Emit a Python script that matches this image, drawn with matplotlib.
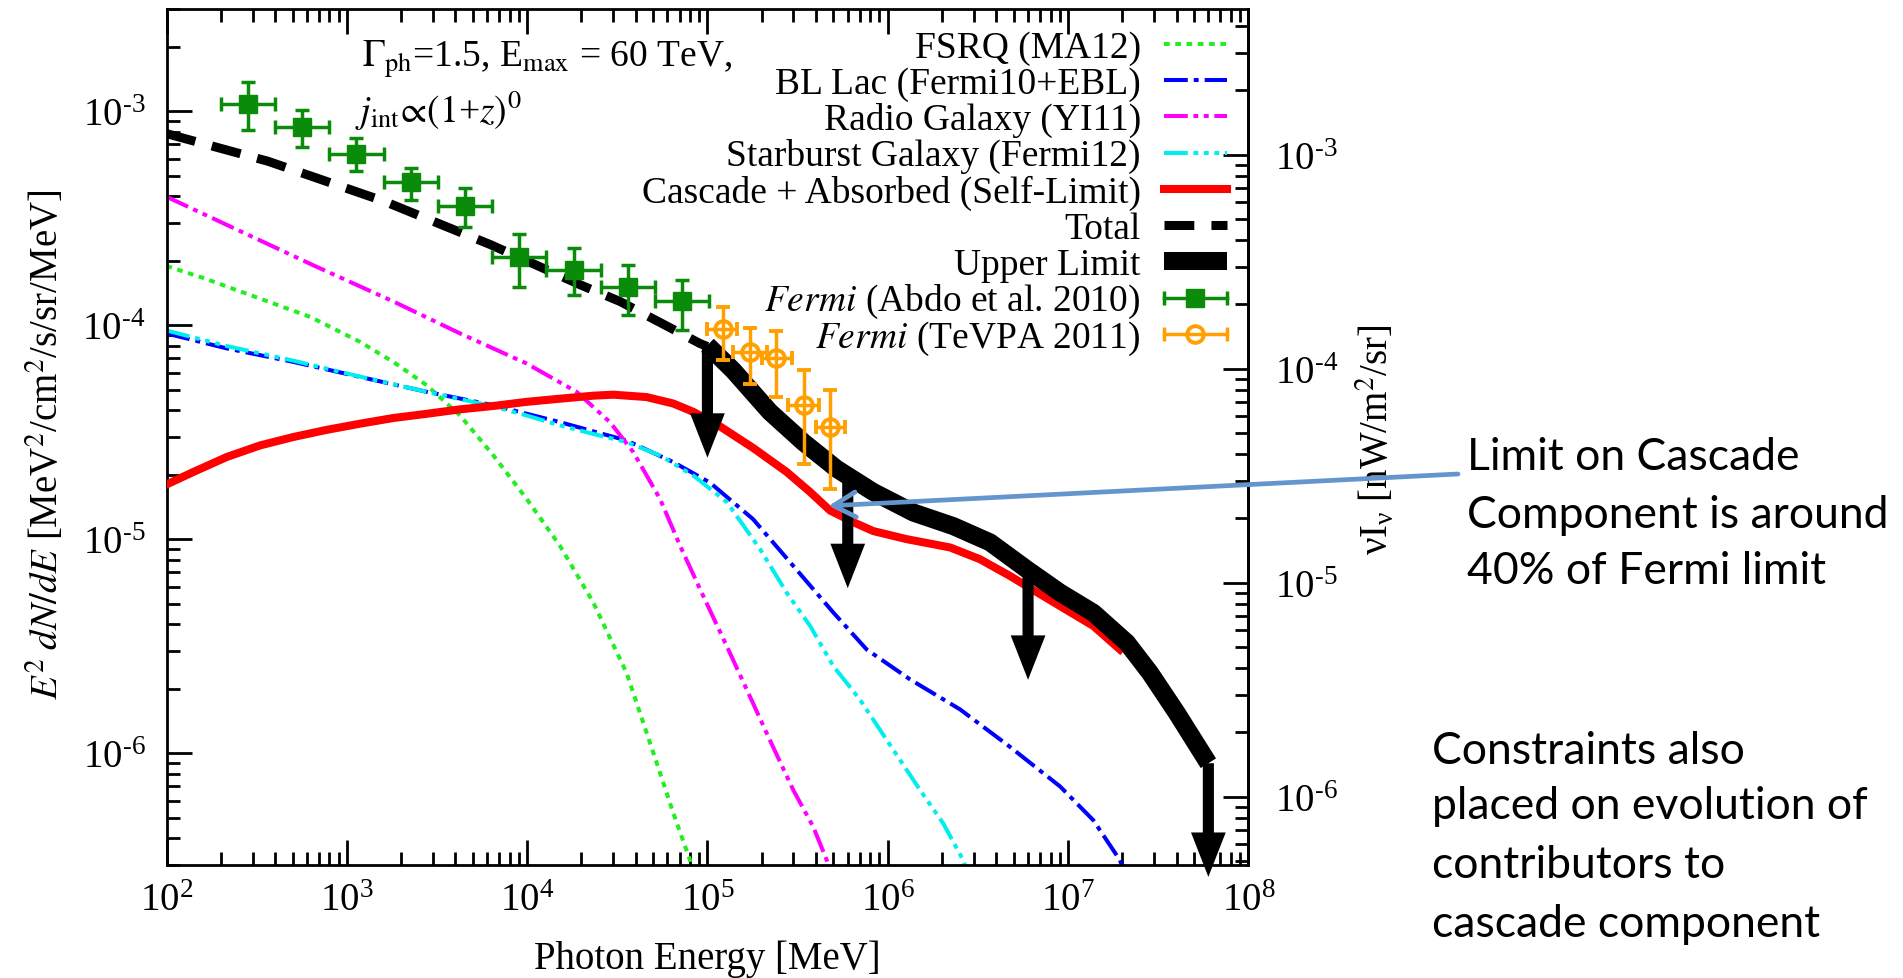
import numpy as np
import matplotlib
matplotlib.use("Agg")
import matplotlib.pyplot as plt
from matplotlib.ticker import FuncFormatter

plt.rcParams["font.family"] = ["Liberation Serif", "DejaVu Serif"]
plt.rcParams["mathtext.fontset"] = "stix"
plt.rcParams["axes.unicode_minus"] = False

# ---- values: E [MeV], E^2 dN/dE [MeV/cm^2/s/sr] ----
fsrq_E = [100, 160, 330, 630, 1180, 1810, 2770, 4250, 6500, 9950, 1.52e4, 2.33e4,
          3.56e4, 5.24e4, 6.47e4, 8.0e4, 8.5e4]
fsrq_y = [1.89e-4, 1.66e-4, 1.33e-4, 1.09e-4, 8.36e-5, 6.73e-5, 5.24e-5, 3.78e-5,
          2.46e-5, 1.54e-5, 9.31e-6, 5.05e-6, 2.37e-6, 8.97e-7, 5.24e-7, 3.16e-7, 2.5e-7]

bllac_E = [100, 216, 505, 1180, 2770, 6500, 1.52e4, 3.56e4, 6.47e4, 1.03e5, 1.79e5,
           2.99e5, 4.99e5, 7.64e5, 1.33e6, 2.52e6, 4.76e6, 9.04e6, 1.38e7, 1.94e7, 2.14e7]
bllac_y = [9.14e-5, 7.78e-5, 6.73e-5, 5.73e-5, 4.88e-5, 4.22e-5, 3.52e-5, 2.89e-5,
           2.29e-5, 1.84e-5, 1.24e-5, 7.50e-6, 4.54e-6, 3.05e-6, 2.21e-6, 1.60e-6,
           1.07e-6, 6.98e-7, 4.86e-7, 3.16e-7, 2.51e-7]

radio_E = [100, 646, 1810, 4250, 9950, 1.88e4, 2.88e4, 3.88e4, 5.46e4, 7.05e4, 9.48e4,
           1.28e5, 1.72e5, 2.22e5, 2.99e5, 3.86e5, 4.59e5, 4.90e5]
radio_y = [3.98e-4, 1.91e-4, 1.29e-4, 9.14e-5, 6.61e-5, 4.88e-5, 3.52e-5, 2.55e-5,
           1.54e-5, 9.31e-6, 5.42e-6, 3.16e-6, 1.84e-6, 1.15e-6, 6.73e-7, 4.53e-7,
           3.16e-7, 2.63e-7]

starburst_E = [100, 216, 505, 1180, 2770, 6500, 9950, 1.52e4, 2.33e4, 3.56e4, 5.46e4,
               8.36e4, 1.28e5, 1.96e5, 2.75e5, 3.71e5, 4.99e5, 7.01e5, 1.07e6, 1.51e6,
               2.03e6, 2.62e6, 2.82e6]
starburst_y = [9.44e-5, 7.98e-5, 6.82e-5, 5.75e-5, 4.88e-5, 4.17e-5, 3.78e-5, 3.40e-5,
               3.10e-5, 2.84e-5, 2.46e-5, 1.98e-5, 1.49e-5, 8.97e-6, 5.62e-6, 3.93e-6,
               2.55e-6, 1.78e-6, 1.04e-6, 6.73e-7, 4.70e-7, 3.16e-7, 2.63e-7]

cascade_E = [100, 141, 216, 330, 505, 774, 1180, 1810, 2770, 4250, 6500, 9950, 1.52e4,
             2.33e4, 3.01e4, 4.60e4, 6.47e4, 8.36e4, 1.17e5, 1.80e5, 2.75e5, 3.71e5,
             4.79e5, 6.44e5, 8.32e5, 1.27e6, 2.22e6, 3.25e6, 4.76e6, 7.29e6, 1.38e7,
             1.94e7]
cascade_y = [1.80e-5, 2.06e-5, 2.42e-5, 2.74e-5, 3.00e-5, 3.24e-5, 3.46e-5, 3.68e-5,
             3.85e-5, 4.04e-5, 4.19e-5, 4.38e-5, 4.53e-5, 4.68e-5, 4.73e-5, 4.61e-5,
             4.30e-5, 3.93e-5, 3.37e-5, 2.66e-5, 2.06e-5, 1.66e-5, 1.36e-5, 1.20e-5,
             1.09e-5, 1.00e-5, 9.14e-6, 8.05e-6, 6.73e-6, 5.42e-6, 3.93e-6, 3.05e-6]

total_E = [100, 365, 1610, 6310, 1.98e4, 3.27e4, 5.94e4, 9.10e4, 1.0e5]
total_y = [7.85e-4, 5.83e-4, 3.79e-4, 2.37e-4, 1.54e-4, 1.29e-4, 9.91e-5, 8.20e-5, 7.94e-5]

upper_E = [1.0e5, 1.39e5, 2.22e5, 3.40e5, 5.21e5, 8.32e5, 1.39e6, 2.31e6, 3.69e6,
           5.90e6, 9.04e6, 1.38e7, 2.12e7, 2.85e7, 4.01e7, 6.0e7]
upper_y = [8.05e-5, 6.14e-5, 3.93e-5, 2.84e-5, 2.13e-5, 1.66e-5, 1.33e-5, 1.15e-5,
           9.66e-6, 7.23e-6, 5.62e-6, 4.53e-6, 3.28e-6, 2.37e-6, 1.54e-6, 8.97e-7]

arrow_E = [1e5, 6e5, 6e6, 6e7]
arrow_top = [8.05e-5, 1.97e-5, 7.2e-6, 8.97e-7]
arrow_tip = [2.4e-5, 5.9e-6, 2.2e-6, 2.64e-7]

# Fermi (Abdo et al. 2010)
abdo_E = [283, 566, 1131, 2263, 4525, 9051, 18102, 36204, 72408]
abdo_Elo = [200, 400, 800, 1600, 3200, 6400, 12800, 25600, 51200]
abdo_Ehi = [400, 800, 1600, 3200, 6400, 12800, 25600, 51200, 102400]
abdo_y = [1.08e-3, 8.45e-4, 6.31e-4, 4.67e-4, 3.59e-4, 2.08e-4, 1.80e-4, 1.50e-4, 1.29e-4]
abdo_ylo = [8.13e-4, 6.81e-4, 5.24e-4, 3.86e-4, 2.88e-4, 1.50e-4, 1.38e-4, 1.11e-4, 9.48e-5]
abdo_yhi = [1.37e-3, 1.01e-3, 7.50e-4, 5.43e-4, 4.35e-4, 2.66e-4, 2.29e-4, 1.91e-4, 1.63e-4]

# Fermi (TeVPA 2011)
tevpa_E = [1.22e5, 1.72e5, 2.40e5, 3.43e5, 4.79e5]
tevpa_Elo = [9.9e4, 1.39e5, 2.0e5, 2.81e5, 4.0e5]
tevpa_Ehi = [1.46e5, 2.13e5, 2.94e5, 4.18e5, 5.79e5]
tevpa_y = [9.58e-5, 7.50e-5, 7.03e-5, 4.22e-5, 3.34e-5]
tevpa_ylo = [6.86e-5, 5.33e-5, 4.61e-5, 2.25e-5, 1.71e-5]
tevpa_yhi = [1.22e-4, 9.72e-5, 9.37e-5, 6.15e-5, 4.96e-5]

MEV_CM2_TO_NW_M2 = 1.602  # MeV/cm^2/s/sr -> nW/m^2/sr

green = "#0a8c0a"
orange = "#ffa000"
styles = {
    "fsrq": dict(color="#22ee22", lw=2.9, ls=(0, (1.4, 1.4))),
    "bllac": dict(color="#0000ff", lw=2.9, ls=(0, (5.9, 1.5, 1.2, 1.5))),
    "radio": dict(color="#ff00ff", lw=2.9, ls=(0, (5.9, 1.4, 1.2, 1.4, 1.2, 1.4))),
    "starburst": dict(color="#00eeee", lw=2.9, ls=(0, (5.9, 1.4, 1.2, 1.4, 1.2, 1.4, 1.2, 1.4))),
    "cascade": dict(color="#ff0000", lw=5.8, ls="-"),
    "total": dict(color="black", lw=6.5, ls=(0, (3.3, 1.9))),
    "upper": dict(color="black", lw=13, ls="-", solid_capstyle="butt", solid_joinstyle="round"),
}


def pow10(v, pos):
    ex = int(round(np.log10(v)))
    ex_txt = str(ex) if ex >= 0 else r"\text{-}%d" % (-ex)
    return r"$\mathdefault{10^{%s}}$" % ex_txt


fig = plt.figure(figsize=(19.03, 9.79), dpi=100)
ax = fig.add_axes([0.0875, 0.1154, 0.5685, 0.8744])
ax.set_xscale("log")
ax.set_yscale("log")

ax.plot(fsrq_E, fsrq_y, zorder=2, **styles["fsrq"])
ax.plot(bllac_E, bllac_y, zorder=2, **styles["bllac"])
ax.plot(radio_E, radio_y, zorder=2, **styles["radio"])
ax.plot(starburst_E, starburst_y, zorder=2, **styles["starburst"])
ax.plot(cascade_E, cascade_y, zorder=3, **styles["cascade"])
ax.plot(total_E, total_y, zorder=3, **styles["total"])
ax.plot(upper_E, upper_y, zorder=4, **styles["upper"])

for e, top, tip in zip(arrow_E, arrow_top, arrow_tip):
    ax.annotate("", xy=(e, tip), xytext=(e, top), annotation_clip=False, zorder=5,
                arrowprops=dict(arrowstyle="simple,head_length=32,head_width=25,tail_width=8",
                                mutation_scale=1, fc="black", ec="black", lw=0,
                                shrinkA=0, shrinkB=0))

abdo_E_a = np.array(abdo_E)
abdo_y_a = np.array(abdo_y)
ax.errorbar(abdo_E, abdo_y,
            xerr=[abdo_E_a - np.array(abdo_Elo), np.array(abdo_Ehi) - abdo_E_a],
            yerr=[abdo_y_a - np.array(abdo_ylo), np.array(abdo_yhi) - abdo_y_a],
            fmt="s", ms=13, color=green, ecolor=green, elinewidth=2.5,
            capsize=5, capthick=2.5, zorder=6)

tevpa_E_a = np.array(tevpa_E)
tevpa_y_a = np.array(tevpa_y)
ax.errorbar(tevpa_E, tevpa_y,
            xerr=[tevpa_E_a - np.array(tevpa_Elo), np.array(tevpa_Ehi) - tevpa_E_a],
            yerr=[tevpa_y_a - np.array(tevpa_ylo), np.array(tevpa_yhi) - tevpa_y_a],
            fmt="o", ms=12, mfc="none", mec=orange, mew=2.8, color=orange,
            ecolor=orange, elinewidth=2.5, capsize=5, capthick=2.5, zorder=6)

ax.set_xlim(1e2, 1e8)
ax.set_ylim(3e-7, 3e-3)
ax.xaxis.set_major_formatter(FuncFormatter(pow10))
ax.yaxis.set_major_formatter(FuncFormatter(pow10))

for s in ax.spines.values():
    s.set_linewidth(2)
ax.tick_params(which="both", direction="in", top=True, right=False, width=2)
ax.tick_params(which="major", length=18, labelsize=28)
ax.tick_params(which="minor", length=9.5)
ax.tick_params(axis="x", pad=12)
ax.tick_params(axis="y", pad=15)

sec = ax.secondary_yaxis("right", functions=(lambda y: y * MEV_CM2_TO_NW_M2,
                                              lambda y: y / MEV_CM2_TO_NW_M2))
sec.spines["right"].set_linewidth(2)
sec.tick_params(which="both", direction="in", width=2, pad=19)
sec.tick_params(which="major", length=18, labelsize=28)
sec.tick_params(which="minor", length=9.5)
sec.yaxis.set_major_formatter(FuncFormatter(pow10))
sec.xaxis.set_visible(False)

ax.set_xlabel("Photon Energy [MeV]", fontsize=28, va="baseline")
ax.xaxis.set_label_coords(0.5, -0.1203)
ax.set_ylabel(r"$E^2\;dN/dE$ [MeV$^2$/cm$^2$/s/sr/MeV]", fontsize=28)
ax.yaxis.set_label_coords(-0.092, 0.4924)
sec.set_ylabel(r"$\mathregular{\nu I_\nu}$ [nW/m$^2$/sr]", fontsize=28)
sec.yaxis.set_label_coords(1.098, 0.4977, transform=ax.transAxes)

# parameter text, top left
fig.text(361.7 / 1903, 1 - 66.7 / 979, r"$\Gamma_{\rm ph}$=1.5, E$_{\rm max}$ = 60 TeV,",
         fontsize=27, va="baseline")
fig.text(355 / 1903, 1 - 123 / 979, r"$j_{\rm int}\!\propto\!(1$+$z)^0$",
         fontsize=27, va="baseline")

# legend, drawn by hand so the labels sit right-aligned left of the keys
legend_labels = ["FSRQ (MA12)", "BL Lac (Fermi10+EBL)", "Radio Galaxy (YI11)",
                 "Starburst Galaxy (Fermi12)", "Cascade + Absorbed (Self-Limit)", "Total",
                 "Upper Limit", r"$\it{Fermi}$ (Abdo et al. 2010)", r"$\it{Fermi}$ (TeVPA 2011)"]
legend_keys = ["fsrq", "bllac", "radio", "starburst", "cascade", "total", "upper", "abdo", "tevpa"]
text_x = 0.9006
hx0, hx1 = 0.9222, 0.9799
for i, (lab, key) in enumerate(zip(legend_labels, legend_keys)):
    yy = 1 - (45 + 36.25 * i - 10) / 856
    ax.text(text_x, yy - 12.5 / 856, lab, transform=ax.transAxes, ha="right",
            va="baseline", fontsize=27)
    if key in styles:
        ax.plot([hx0, hx1], [yy, yy], transform=ax.transAxes, clip_on=False, **styles[key])
    else:
        col = green if key == "abdo" else orange
        ax.plot([hx0, hx1], [yy, yy], transform=ax.transAxes, clip_on=False, color=col, lw=2.5)
        ax.plot([hx0, hx1], [yy, yy], transform=ax.transAxes, clip_on=False, ls="none",
                marker="|", ms=9.5, mew=2.5, color=col)
        if key == "abdo":
            ax.plot([(hx0 + hx1) / 2], [yy], transform=ax.transAxes, clip_on=False,
                    marker="s", ms=13, color=col)
        else:
            ax.plot([(hx0 + hx1) / 2], [yy], transform=ax.transAxes, clip_on=False,
                    marker="o", ms=12, mfc="none", mec=col, mew=2.8)

# slide annotations
limit_lines = ["Limit on Cascade", "Component is around", "40% of Fermi limit"]
for line, base in zip(limit_lines, [470, 528.3, 584]):
    fig.text(1466.7 / 1903, 1 - base / 979, line, family="Lato", fontsize=32, va="baseline")
constraint_lines = ["Constraints also", "placed on evolution of", "contributors to",
                    "cascade component"]
for line, base in zip(constraint_lines, [764, 819, 878, 937]):
    fig.text(1432 / 1903, 1 - base / 979, line, family="Lato", fontsize=32, va="baseline")

ax.annotate("", xy=(4.7e5, 1.43e-5), xytext=(1458 / 1903, 1 - 475 / 979),
            textcoords="figure fraction", annotation_clip=False, zorder=8,
            arrowprops=dict(arrowstyle="->,head_length=0.8,head_width=0.45",
                            mutation_scale=20, color="#6495cf", lw=3.4,
                            shrinkA=0, shrinkB=0))

fig.savefig("out.png", dpi=100)
